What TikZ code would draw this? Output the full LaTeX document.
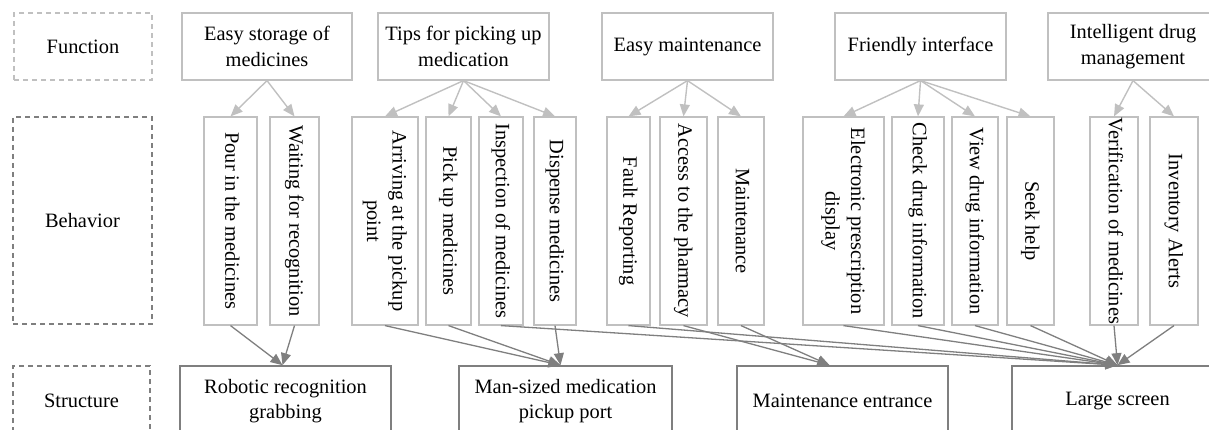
\documentclass[tikz,border=0pt]{standalone}
\usepackage{fontspec}
\setmainfont{Liberation Serif}
\usepackage{graphicx}
\usetikzlibrary{arrows.meta}
\definecolor{lightgr}{HTML}{C0C0C0}
\definecolor{darkgr}{HTML}{7F7F7F}
\newcommand{\vtext}[1]{\rotatebox{-90}{\begin{tabular}{@{}c@{}}#1\end{tabular}}}
\begin{document}
\begin{tikzpicture}[x=1pt,y=-1pt,font=\fontsize{20.4}{25.5}\selectfont,
		lbl/.style={dash pattern=on 5pt off 4pt,line width=1.2pt,inner sep=0pt},
		fbox/.style={draw=lightgr,line width=1.2pt,minimum width=170pt,minimum height=67pt,align=center,inner sep=0pt},
		bbox/.style={draw=lightgr,line width=1.2pt,minimum height=208pt,inner sep=0pt},
		sbox/.style={draw=darkgr,line width=1.7pt,minimum width=211pt,minimum height=70pt,align=center,inner sep=0pt},
		fa/.style={lightgr,line width=1.4pt,-{Triangle[length=12pt,width=10pt]}},
		sa/.style={darkgr,line width=1.3pt,-{Triangle[length=12pt,width=10pt]}}]
		\useasboundingbox (0,0) rectangle (1209,430);
		\node[lbl,draw=lightgr,minimum width=138pt,minimum height=67pt](lf) at (83,46.5){Function};
		\node[lbl,draw=darkgr,minimum width=139pt,minimum height=207pt](lb) at (82.5,220.5){Behavior};
		\node[lbl,draw=darkgr,minimum width=137pt,minimum height=70pt](ls) at (81.5,401){Structure};
		\node[fbox](f1) at (267,46.5){Easy storage of\\medicines};
		\node[fbox,minimum width=171pt](f2) at (463.5,46.5){Tips for picking up\\medication};
		\node[fbox,minimum width=171pt](f3) at (687.5,46.5){Easy maintenance};
		\node[fbox,minimum width=171pt](f4) at (920.5,46.5){Friendly interface};
		\node[fbox](f5) at (1133,46.5){Intelligent drug\\management};
		\node[bbox,minimum width=53pt](b1) at (230.5,221){\vtext{Pour in the medicines}};
		\node[bbox,minimum width=49pt](b2) at (294.5,221){\vtext{Waiting for recognition}};
		\node[bbox,minimum width=66pt](b3) at (385,221){\vtext{Arriving at the pickup\\point}};
		\node[bbox,minimum width=45pt](b4) at (448.5,221){\vtext{Pick up medicines}};
		\node[bbox,minimum width=44pt](b5) at (501,221){\vtext{Inspection of medicines}};
		\node[bbox,minimum width=42pt](b6) at (555,221){\vtext{Dispense medicines}};
		\node[bbox,minimum width=43pt](b7) at (628.5,221){\vtext{Fault Reporting}};
		\node[bbox,minimum width=47pt](b8) at (683.5,221){\vtext{Access to the pharmacy}};
		\node[bbox,minimum width=46pt](b9) at (741,221){\vtext{Maintenance}};
		\node[bbox,minimum width=81pt](b10) at (843.5,221){\vtext{Electronic prescription\\display}};
		\node[bbox,minimum width=52pt](b11) at (918,221){\vtext{Check drug information}};
		\node[bbox,minimum width=46pt](b12) at (975,221){\vtext{View drug information}};
		\node[bbox,minimum width=47pt](b13) at (1030.5,221){\vtext{Seek help}};
		\node[bbox,minimum width=48pt](b14) at (1114,221){\vtext{Verification of medicines}};
		\node[bbox,minimum width=48pt](b15) at (1174,221){\vtext{Inventory Alerts}};
		\node[sbox](s1) at (285.5,401){Robotic recognition\\grabbing};
		\node[sbox,minimum width=213pt](s2) at (565.5,401){Man-sized medication\\pickup port};
		\node[sbox](s3) at (842.5,401){Maintenance entrance};
		\node[sbox](s4) at (1117.5,401){Large screen};
		\draw[fa](f1.south)--(b1.north);
		\draw[fa](f1.south)--(b2.north);
		\draw[fa](f2.south)--(b3.north);
		\draw[fa](f2.south)--(b4.north);
		\draw[fa](f2.south)--(b5.north);
		\draw[fa](f2.south)--(b6.north);
		\draw[fa](f3.south)--(b7.north);
		\draw[fa](f3.south)--(b8.north);
		\draw[fa](f3.south)--(b9.north);
		\draw[fa](f4.south)--(b10.north);
		\draw[fa](f4.south)--(b11.north);
		\draw[fa](f4.south)--(b12.north);
		\draw[fa](f4.south)--(b13.north);
		\draw[fa](f5.south)--(b14.north);
		\draw[fa](f5.south)--(b15.north);
		\draw[sa](b1.south)--([xshift=-3pt]s1.north);
		\draw[sa](b2.south)--([xshift=-3pt]s1.north);
		\draw[sa](b3.south)--([xshift=-5pt]s2.north);
		\draw[sa](b4.south)--([xshift=-5pt]s2.north);
		\draw[sa](b6.south)--([xshift=-5pt]s2.north);
		\draw[sa](b8.south)--([xshift=-13pt]s3.north);
		\draw[sa](b9.south)--([xshift=-13pt]s3.north);
		\draw[sa](b5.south)--(s4.north);
		\draw[sa](b7.south)--(s4.north);
		\draw[sa](b10.south)--(s4.north);
		\draw[sa](b11.south)--(s4.north);
		\draw[sa](b12.south)--(s4.north);
		\draw[sa](b13.south)--(s4.north);
		\draw[sa](b14.south)--(s4.north);
		\draw[sa](b15.south)--(s4.north);
	\end{tikzpicture}
\end{document}
